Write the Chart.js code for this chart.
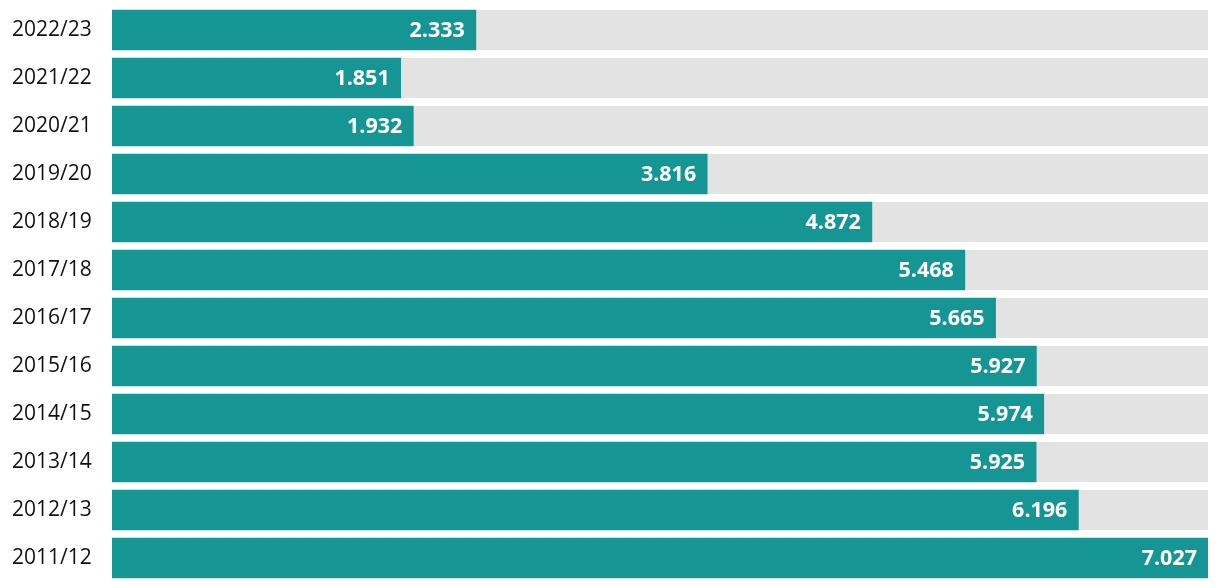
<!DOCTYPE html>
<html>
<head>
<meta charset="utf-8">
<script src="https://cdn.jsdelivr.net/npm/chart.js@4/dist/chart.umd.min.js"></script>
<style>
html,body{margin:0;padding:0;background:#fff;}
#wrap{width:1220px;height:588px;position:relative;}
</style>
</head>
<body>
<div id="wrap"><canvas id="c" width="1220" height="588"></canvas></div>
<script>
const categories = ["2022/23","2021/22","2020/21","2019/20","2018/19","2017/18","2016/17","2015/16","2014/15","2013/14","2012/13","2011/12"];
const values = [2.333,1.851,1.932,3.816,4.872,5.468,5.665,5.927,5.974,5.925,6.196,7.027];
const valueLabels = ["2.333","1.851","1.932","3.816","4.872","5.468","5.665","5.927","5.974","5.925","6.196","7.027"];

const FONT = "'Open Sans', 'Noto Sans', sans-serif";

const trackPlugin = {
  id: 'track',
  beforeDatasetsDraw(chart) {
    const ctx = chart.ctx, area = chart.chartArea;
    const meta = chart.getDatasetMeta(0);
    ctx.save();
    ctx.fillStyle = '#e3e3e3';
    meta.data.forEach(bar => {
      const h = bar.height;
      ctx.fillRect(area.left, bar.y - h/2, area.right - area.left, h);
    });
    ctx.restore();
  }
};
const labelPlugin = {
  id: 'vlabels',
  afterDatasetsDraw(chart) {
    const ctx = chart.ctx;
    const meta = chart.getDatasetMeta(0);
    ctx.save();
    ctx.fillStyle = '#ffffff';
    ctx.font = "bold 21.5px " + FONT;
    ctx.textAlign = 'right';
    ctx.textBaseline = 'middle';
    meta.data.forEach((bar, i) => {
      ctx.fillText(valueLabels[i], bar.x - 11, bar.y + 1);
    });
    ctx.restore();
  }
};

new Chart(document.getElementById('c'), {
  type: 'bar',
  data: {
    labels: categories,
    datasets: [{
      data: values,
      backgroundColor: '#159694',
      borderWidth: 0,
      barThickness: 40
    }]
  },
  options: {
    indexAxis: 'y',
    responsive: false,
    animation: false,
    devicePixelRatio: 1,
    layout: { padding: { left: 12, right: 12, top: 6, bottom: 6 } },
    plugins: { legend: { display: false }, tooltip: { enabled: false } },
    scales: {
      x: { display: false, min: 0, max: 7.027 },
      y: {
        grid: { display: false },
        border: { display: false },
        afterFit(scale) { scale.width = 100; scale.paddingTop = 0; scale.paddingBottom = 0; },
        ticks: {
          crossAlign: 'far',
          padding: 0,
          color: '#111',
          font: { family: FONT, size: 21 }
        }
      }
    }
  },
  plugins: [trackPlugin, labelPlugin]
});
</script>
</body>
</html>
